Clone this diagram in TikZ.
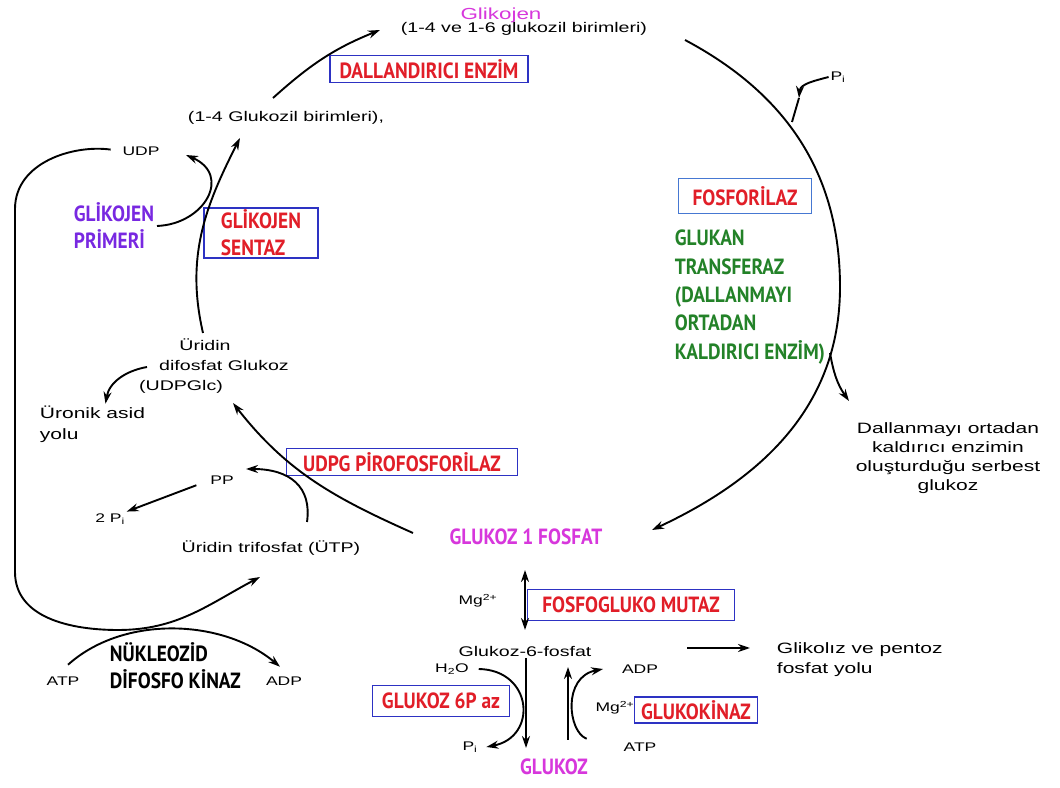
\documentclass[tikz,border=0pt]{standalone}
\usepackage{fontspec}
\setmainfont{Liberation Sans}[FakeStretch=1.4]
\newfontfamily\enzfont{PT Sans}[FakeStretch=0.88]
\usepackage{tikz}
\usepackage{xcolor}
\usetikzlibrary{arrows.meta, calc}

\definecolor{enzred}{RGB}{225,30,40}
\definecolor{boxblue}{RGB}{45,50,195}
\definecolor{lightblue}{RGB}{70,120,210}
\definecolor{glkpink}{RGB}{215,55,220}
\definecolor{primpurple}{RGB}{120,40,225}
\definecolor{enzgreen}{RGB}{35,130,40}

\begin{document}
\begin{tikzpicture}[x=1pt, y=1pt, line width=1.9pt, >={Stealth[length=12pt,width=8pt]},
  txt/.style={font=\fontsize{14}{17}\selectfont, inner sep=1pt},
  small/.style={font=\fontsize{12.5}{15}\selectfont, inner sep=1pt},
  big/.style={font=\enzfont\bfseries\fontsize{22}{27}\selectfont, inner sep=1pt},
  enz/.style={big, text=enzred, draw=boxblue, line width=1.3pt, inner sep=0pt}]
\fill[white] (0,0) rectangle (1060,787);
\useasboundingbox (0,0) rectangle (1060,787);

% Glycogen cycle
\node[txt, text=glkpink, font=\fontsize{16}{18}\selectfont] (glikojen) at (501,772) {Glikojen};
\node[txt] (g16) at (524,758) {(1-4 ve 1-6 glukozil birimleri)};
\node[enz, minimum width=198, minimum height=27] (dall) at (429,718) {DALLANDIRICI ENZİM};
\node[txt] (g14) at (286,669) {(1-4 Glukozil birimleri),};
\node[small] (udp) at (141,636) {UDP};
\node[big, text=primpurple, align=left, anchor=west] (primer) at (72,561) {GLİKOJEN\\PRİMERİ};
\node[enz, align=left, minimum width=114, minimum height=50] (sentaz) at (261,554) {GLİKOJEN\\SENTAZ};
\node[txt, align=center, font=\fontsize{14}{20}\selectfont] (udpglc) at (205,421) {Üridin\\\hspace*{38pt}difosfat Glukoz\\(UDPGlc)\hspace*{48pt}};
\node[txt, align=left, anchor=west, font=\fontsize{15}{21}\selectfont] (uronik) at (38,363) {Üronik asid\\yolu};
\node[enz, minimum width=231, minimum height=27] (pirofos) at (402,325) {UDPG PİROFOSFORİLAZ};
\node[small] (pp) at (222,307) {PP};
\node[small] (twopi) at (110,268) {2 P\textsubscript{i}};
\node[txt] (utp) at (271,239) {Üridin trifosfat (ÜTP)};
\node[big, text=glkpink] (g1p) at (526,250) {GLUKOZ 1 FOSFAT};

% Breakdown side
\node[enz, draw=lightblue, minimum width=133, minimum height=35] (fosforilaz) at (745,591) {FOSFORİLAZ};
\node[big, text=enzgreen, align=left, anchor=west, font=\enzfont\bfseries\fontsize{22}{28.3}\selectfont] (transferaz) at (673,490) {GLUKAN\\TRANSFERAZ\\(DALLANMAYI\\ORTADAN\\KALDIRICI ENZİM)};
\node[small] (pitop) at (838,710) {P\textsubscript{i}};
\node[txt, align=center, font=\fontsize{15}{19}\selectfont] (serbest) at (948,329) {Dallanmayı ortadan\\kaldırıcı enzimin\\oluşturduğu serbest\\glukoz};

% Glucose part
\node[small] (mg1) at (478,186) {Mg\textsuperscript{2+}};
\node[enz, minimum width=207, minimum height=31] (mutaz) at (631,182) {FOSFOGLUKO MUTAZ};
\node[txt] (g6p) at (525,136) {Glukoz-6-fosfat};
\node[txt, align=left, anchor=west, font=\fontsize{15}{20}\selectfont] (glikoliz) at (775,127) {Glikolız ve pentoz\\fosfat yolu};
\node[small] (h2o) at (452,118) {H\textsubscript{2}O};
\node[small] (adp2) at (640,118) {ADP};
\node[enz, minimum width=137, minimum height=31] (p6az) at (441,86) {GLUKOZ 6P az};
\node[small] (mg2) at (615,79) {Mg\textsuperscript{2+}};
\node[enz, minimum width=123, minimum height=26] (kinaz) at (696,77) {GLUKOKİNAZ};
\node[small] (pi2) at (470,40) {P\textsubscript{i}};
\node[small] (atp2) at (640,40) {ATP};
\node[big, text=glkpink] (glukoz) at (554,20) {GLUKOZ};

% UTP regeneration
\node[big, align=left, anchor=west] (nukleozid) at (108,121) {NÜKLEOZİD\\DİFOSFO KİNAZ};
\node[small] (atp1) at (63,106) {ATP};
\node[small] (adp1) at (284,106) {ADP};

% Free ends
\coordinate (arctop) at (685,747);
\coordinate (arcright) at (840,500);
\coordinate (g1pin) at (652,257);
\coordinate (pitip) at (799,689);
\coordinate (pijoin) at (792,665);
\coordinate (arcdal) at (830,434);
\coordinate (serbtip) at (849,386);
\coordinate (g1pout) at (413,254);
\coordinate (udptip) at (233,384);
\coordinate (utpout) at (307,265);
\coordinate (pptip) at (246,318);
\coordinate (ugout) at (147,420);
\coordinate (ugtop) at (203,454);
\coordinate (g14tip) at (240,649);
\coordinate (primout) at (157,561);
\coordinate (udptip2) at (186,632);
\coordinate (g14out) at (273,689);
\coordinate (glktip) at (380,757);
\coordinate (utpin) at (260,210);

% Arrows
\draw[->] (arctop) to[out=-28,in=90] (arcright) to[out=-90,in=25] (g1pin);
\draw[->] (pitop.west) to[out=195,in=85] (pitip);
\draw (pitip) -- (pijoin);
\draw[->] (arcdal) to[out=-80,in=125] (serbtip);
\draw[->] (g1pout) to[out=156,in=-52] (udptip);
\draw[->] (utpout) .. controls (312,300) and (290,318) .. (pptip);
\draw[->] ($(pp.south west)+(-12,1)$) -- (twopi.north east);
\draw[->] (ugout) to[out=190,in=80] ([xshift=13pt]uronik.north);
\draw[->] (ugtop) to[out=103,in=243] (g14tip);
\draw[->] (primout) .. controls (205,563) and (232,612) .. (udptip2);
\draw[->] (g14out) to[out=42,in=202] (glktip);
\draw[->, shorten <=10pt] (udp.west) to[out=172,in=90] (15,578) -- (15,215) to[out=-90,in=180] (118,157) to[out=0,in=208] (utpin);
\draw[->] ($(atp1.north)+(5,10)$) to[out=42,in=140,looseness=0.9] ($(adp1.north)+(-4,8)$);

\draw[<->, line width=2.6pt] ($(g1p)+(-1,-33)$) -- ($(g6p)+(0,21)$);
\draw[->] ($(g6p)+(162,3)$) -- ($(glikoliz.west)+(-25,12)$);
\draw[->] ($(g6p)+(1,-7)$) -- ($(glukoz)+(-28,19)$);
\draw[->] ($(glukoz)+(14,27)$) -- ($(g6p)+(43,-16)$);
\draw[->] ($(h2o.east)+(8,0)$) .. controls (533,117) and (538,50) .. ($(pi2.east)+(7,0)$);
\draw[->] ($(atp2.north west)+(-35,2)$) .. controls (568,55) and (562,110) .. ($(adp2.west)+(-17,0)$);
\end{tikzpicture}
\end{document}
